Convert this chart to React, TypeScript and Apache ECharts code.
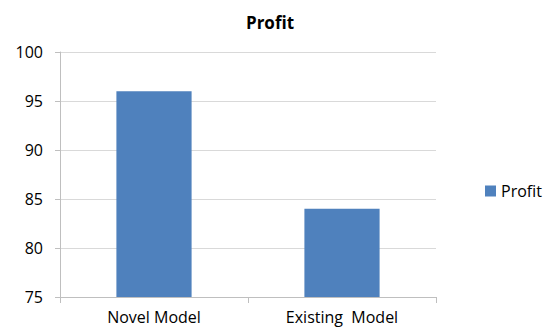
import React, { useEffect, useRef } from "react";
import * as echarts from "echarts";

const categories = ["Novel Model", "Existing  Model"];
const profitValues = [96, 84];
const seriesName = "Profit";
const chartTitle = "Profit";

export default function App() {
  const ref = useRef<HTMLDivElement>(null);
  useEffect(() => {
    if (!ref.current) return;
    const chart = echarts.init(ref.current, null, { renderer: "svg" });
    const font = "'Open Sans', 'Noto Sans', sans-serif";
    chart.setOption({
      animation: false,
      backgroundColor: "#ffffff",
      title: {
        text: chartTitle,
        left: 265,
        textAlign: "center",
        top: 9,
        textStyle: { fontFamily: font, fontSize: 17, fontWeight: "bold", color: "#000" },
      },
      legend: {
        data: [seriesName],
        left: 480,
        top: 178,
        icon: "rect",
        itemWidth: 11,
        itemHeight: 11,
        itemGap: 6,
        textStyle: { fontFamily: font, fontSize: 16, color: "#000", padding: [0, 0, 0, 0] },
      },
      grid: { left: 60, top: 52, width: 376, height: 245, containLabel: false },
      xAxis: {
        type: "category",
        data: categories,
        axisLine: { show: true, lineStyle: { color: "#bfbfbf", width: 1 } },
        axisTick: { show: true, length: 6, lineStyle: { color: "#bfbfbf" } },
        axisLabel: { fontFamily: font, fontSize: 16, color: "#000", margin: 12 },
      },
      yAxis: {
        type: "value",
        min: 75,
        max: 100,
        interval: 5,
        axisLine: { show: true, lineStyle: { color: "#bfbfbf", width: 1 } },
        axisTick: { show: true, length: 5, lineStyle: { color: "#bfbfbf" } },
        axisLabel: { fontFamily: font, fontSize: 16, color: "#000", margin: 17 },
        splitLine: { show: true, lineStyle: { color: "#d9d9d9", width: 1 } },
      },
      series: [
        {
          name: seriesName,
          type: "bar",
          data: profitValues,
          barWidth: "40%",
          itemStyle: { color: "#4f81bd" },
        },
      ],
    });
    return () => chart.dispose();
  }, []);
  return (
    <div
      ref={ref}
      style={{ position: "fixed", left: 0, top: 0, width: 556, height: 330 }}
    />
  );
}
